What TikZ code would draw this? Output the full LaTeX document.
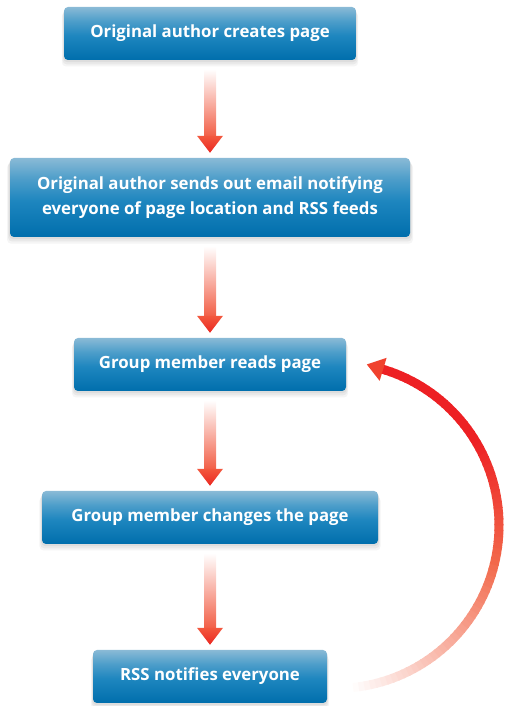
\documentclass[tikz,border=0pt]{standalone}
\usepackage{fontspec}
\setmainfont{Open Sans}
\usetikzlibrary{shadows,calc}

% box blues
\definecolor{btop}{RGB}{138,186,214}
\definecolor{bup}{RGB}{78,158,202}
\definecolor{bmid}{RGB}{30,134,191}
\definecolor{bbot}{RGB}{0,110,172}
% arrow reds
\definecolor{shaftred}{RGB}{242,96,72}
\definecolor{headtop}{RGB}{243,88,62}
\definecolor{headbot}{RGB}{234,40,34}
\definecolor{arcred}{RGB}{237,32,36}
\definecolor{arcorange}{RGB}{242,105,75}
\definecolor{archead}{RGB}{240,66,46}

\pgfdeclareverticalshading{boxblue}{100bp}{color(0bp)=(bbot); color(25bp)=(bbot); color(48bp)=(bmid); color(62bp)=(bup); color(75bp)=(btop); color(100bp)=(btop)}

\tikzset{
  boxshadow/.style={
    general shadow={fill=black, opacity=0.05, shadow yshift=-2pt, shadow scale=1.005},
    general shadow={fill=black, opacity=0.05, shadow yshift=-4pt, shadow scale=1.01},
    general shadow={fill=black, opacity=0.04, shadow yshift=-6pt, shadow scale=1.015}},
  stepbox/.style={rounded corners=4pt, shade, shading=boxblue, text=white,
    font=\bfseries\fontsize{16.8}{25}\selectfont, align=center, inner sep=0pt,
    minimum height=53pt, boxshadow},
}

% gradient down arrow between two boxes
\newcommand\flowarrow[2]{%
  \shade[top color=white, bottom color=shaftred]
    ($(#1.south)+(-6,-9)$) rectangle ($(#2.north)+(6,22)$);
  \shade[top color=headtop, bottom color=headbot]
    ($(#2.north)+(-13,22)$) -- ($(#2.north)+(13,22)$) -- ($(#2.north)+(0,5)$) -- cycle;
}

\begin{document}
\begin{tikzpicture}[x=1pt,y=1pt]
\useasboundingbox (0,0) rectangle (505,706);

\node[stepbox, minimum width=292pt] (create) at (210,672.5) {Original author creates page};
\node[stepbox, minimum width=400pt, minimum height=79pt] (email) at (210,508.5)
  {Original author sends out email notifying\\everyone of page location and RSS feeds};
\node[stepbox, minimum width=272pt] (read) at (210,341.5) {Group member reads page};
\node[stepbox, minimum width=336pt] (change) at (210,188.5) {Group member changes the page};
\node[stepbox, minimum width=234pt] (rss) at (210,29.5) {RSS notifies everyone};

\flowarrow{create}{email}
\flowarrow{email}{read}
\flowarrow{read}{change}
\flowarrow{change}{rss}

% return loop from the notification back to reading:
% pale at the bottom, salmon on the way up, full red near the head
\coordinate (loopc) at (336,180.6);
\foreach \a [evaluate=\a as \p using {int(min(100,max(0,(\a+86)*1.4)))},
             evaluate=\a as \q using {int(min(100,max(0,(\a+15)*2.2)))}] in {-84,-82,...,70} {
  \draw[line width=9pt, color=arcred!\q!arcorange!\p!white]
    ($(loopc)+(\a:163)$) arc[start angle=\a, end angle=\a+2.5, radius=163];
}
\draw[line width=9pt, color=arcred] ($(loopc)+(72:163)$) arc[start angle=72, end angle=73.4, radius=163];
\coordinate (looptip) at ($(loopc)+(73.2:163)+(163.2:17)$);
\fill[archead] ($(loopc)+(73.2:151)$) -- ($(loopc)+(73.2:175)$) -- (looptip) -- cycle;
\end{tikzpicture}
\end{document}
